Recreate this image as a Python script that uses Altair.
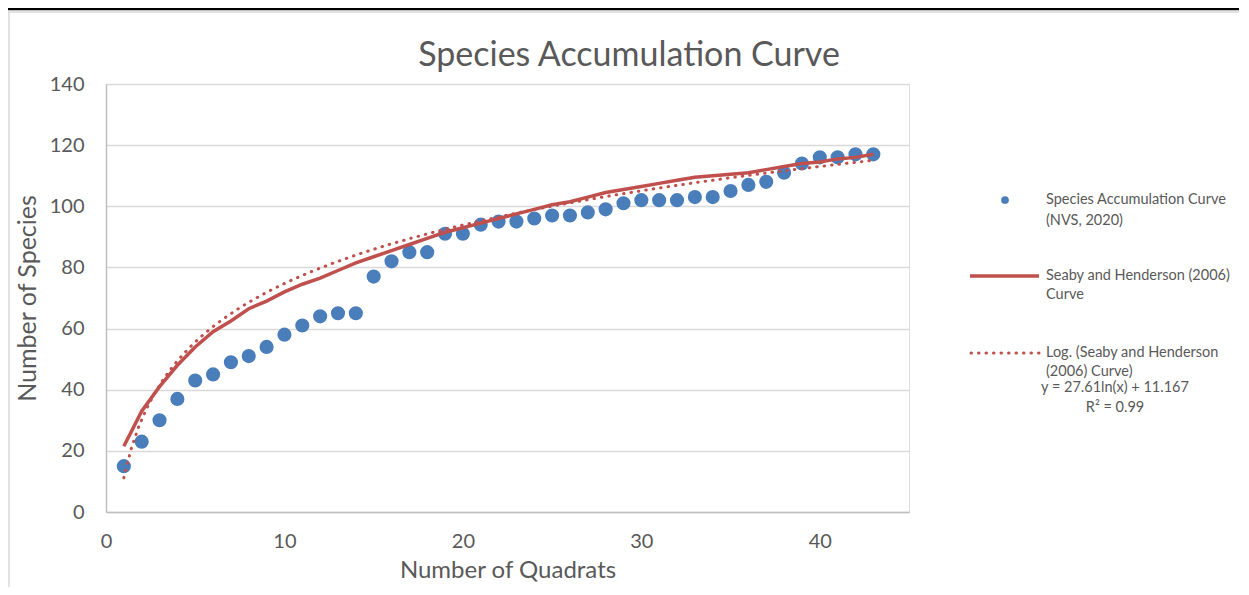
import altair as alt
import pandas as pd

# ---- data ----
quadrats = list(range(1, 44))
nvs_species = [15, 23, 30, 37, 43, 45, 49, 51, 54, 58,
               61, 64, 65, 65, 77, 82, 85, 85, 91, 91,
               94, 95, 95, 96, 97, 97, 98, 99, 101, 102,
               102, 102, 103, 103, 105, 107, 108, 111, 114, 116,
               116, 117, 117]
seaby_species = [21.5, 33, 41, 48, 54, 59, 62.5, 66.5, 69, 72,
                 74.5, 76.5, 79, 81.5, 83.5, 85.5, 87.5, 89.5, 91.5, 93,
                 94.5, 96, 97.5, 99, 100.5, 101.5, 103, 104.5, 105.5, 106.5,
                 107.5, 108.5, 109.5, 110, 110.5, 111, 112, 113, 114, 114.5,
                 115.5, 116, 117]
chart_title = "Species Accumulation Curve"
equation_text = "y = 27.61ln(x) + 11.167"
r2_text = "R² = 0.99"
x_ticks = [0, 10, 20, 30, 40]
y_ticks = [0, 20, 40, 60, 80, 100, 120, 140]

FONT = "Lato"
TXT = "#595959"
BLUE = "#4a7ebb"
RED = "#c0504d"

nvs_df = pd.DataFrame({"x": quadrats, "y": nvs_species})
seaby_df = pd.DataFrame({"x": quadrats, "y": seaby_species})

W, H = 803, 428

xscale = alt.Scale(domain=[0, 45], nice=False)
yscale = alt.Scale(domain=[0, 140], nice=False)

xaxis = alt.Axis(values=x_ticks, grid=False, ticks=False, domainColor="#bfbfbf",
                 domainWidth=1.5, labelFont=FONT, labelFontSize=20, labelColor=TXT,
                 labelPadding=19, labelFlush=False, title="Number of Quadrats",
                 titleFont=FONT, titleFontSize=24, titleFontWeight="normal",
                 titleColor=TXT, titlePadding=7)
yaxis = alt.Axis(values=y_ticks, grid=True, gridColor="#d9d9d9", gridWidth=1.5,
                 ticks=False, domainColor="#bfbfbf", domainWidth=1.5,
                 labelFont=FONT, labelFontSize=20, labelColor=TXT, labelPadding=22,
                 labelFlush=False, title="Number of Species", titleFont=FONT,
                 titleFontSize=25, titleFontWeight="normal", titleColor=TXT,
                 titlePadding=9)

points = alt.Chart(nvs_df).mark_circle(size=200, color=BLUE, opacity=1).encode(
    x=alt.X("x:Q", scale=xscale, axis=xaxis),
    y=alt.Y("y:Q", scale=yscale, axis=yaxis),
)

line = alt.Chart(seaby_df).mark_line(color=RED, strokeWidth=3.5).encode(
    x=alt.X("x:Q", scale=xscale),
    y=alt.Y("y:Q", scale=yscale),
)

trend = alt.Chart(seaby_df).transform_regression(
    "x", "y", method="log", extent=[1, 43]
).mark_line(color=RED, strokeWidth=3, strokeDash=[0.5, 7], strokeCap="round").encode(
    x=alt.X("x:Q", scale=xscale),
    y=alt.Y("y:Q", scale=yscale),
)

one = pd.DataFrame({"k": [0]})


def text_item(label, x, y, align="left", size=14.5, baseline="middle"):
    return alt.Chart(one).mark_text(text=label, font=FONT, fontSize=size, color=TXT,
                                    align=align, baseline=baseline).encode(
        x=alt.value(x), y=alt.value(y))


title_layer = text_item(chart_title, 523, -18, align="center", size=34,
                        baseline="alphabetic")

legend_layers = [
    alt.Chart(one).mark_circle(size=60, color=BLUE, opacity=1).encode(
        x=alt.value(899), y=alt.value(116)),
    text_item("Species Accumulation Curve", 940, 116),
    text_item("(NVS, 2020)", 940, 137),
    alt.Chart(one).mark_rule(color=RED, strokeWidth=3.5).encode(
        x=alt.value(864), x2=alt.value(933), y=alt.value(192)),
    text_item("Seaby and Henderson (2006)", 940, 192),
    text_item("Curve", 940, 211),
    alt.Chart(one).mark_rule(color=RED, strokeWidth=3, strokeDash=[0.5, 7],
                             strokeCap="round").encode(
        x=alt.value(865), x2=alt.value(933), y=alt.value(269)),
    text_item("Log. (Seaby and Henderson", 940, 269),
    text_item("(2006) Curve)", 940, 288),
    text_item(equation_text, 1009, 304, align="center"),
    text_item(r2_text, 1009, 324, align="center"),
]

# page frame decoration (top border line and light frame)
frame_layers = [
    alt.Chart(one).mark_rule(color="#000000", strokeWidth=2.5).encode(
        x=alt.value(-98), x2=alt.value(1133), y=alt.value(-75)),
    alt.Chart(one).mark_rule(color="#d9d9d9", strokeWidth=1.5).encode(
        x=alt.value(-98), x2=alt.value(1133), y=alt.value(-72)),
    alt.Chart(one).mark_rule(color="#d9d9d9", strokeWidth=1.5).encode(
        x=alt.value(-97), y=alt.value(-72), y2=alt.value(510)),
]

chart = alt.layer(points, line, trend, title_layer, *legend_layers,
                  *frame_layers).properties(
    width=W,
    height=H,
    autosize=alt.AutoSizeParams(type="none"),
    padding={"left": 98, "top": 76, "right": 332, "bottom": 75},
).configure_view(strokeWidth=0).configure(background="white")

chart.save("out.html", embed_options={"renderer": "svg", "actions": False})
